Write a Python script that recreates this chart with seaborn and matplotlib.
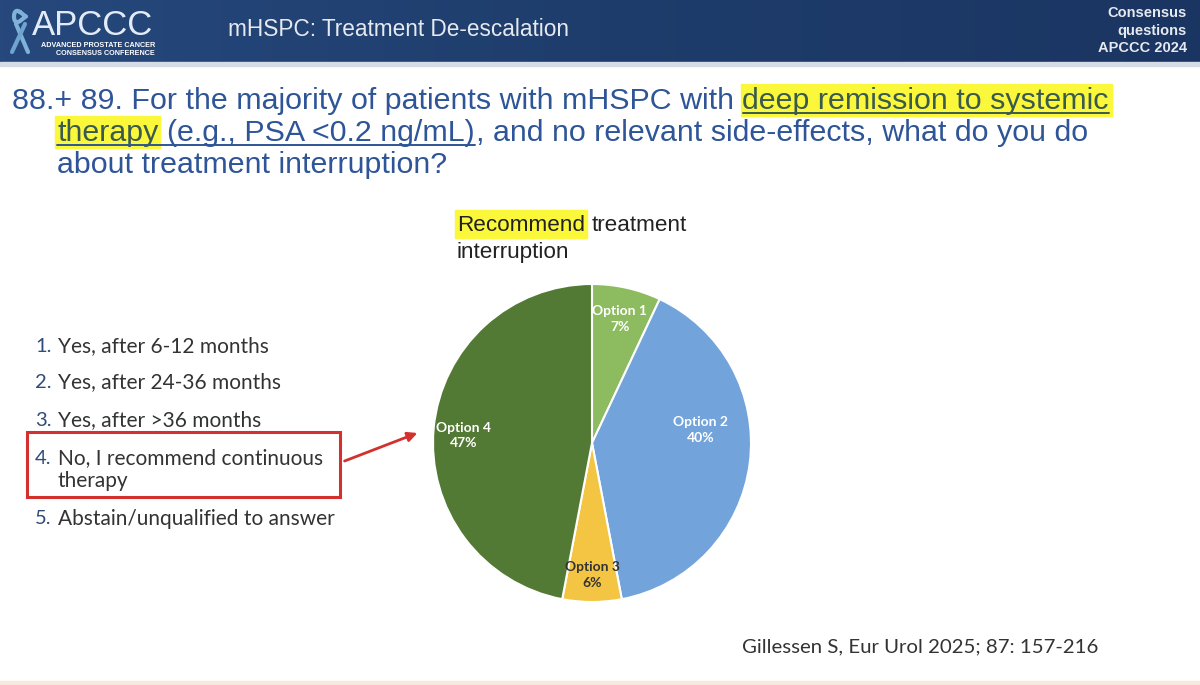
import numpy as np
import matplotlib
matplotlib.use("Agg")
import matplotlib.pyplot as plt
import seaborn as sns
from matplotlib.patches import Rectangle, FancyArrowPatch
from matplotlib.colors import LinearSegmentedColormap

# chart data
options = ["Option 1", "Option 2", "Option 3", "Option 4"]
shares = [7, 40, 6, 47]
slice_colors = ["#8DBB5F", "#72A3DA", "#F4C443", "#537A34"]
label_colors = ["white", "white", "#333333", "white"]

answers = [
    ["Yes, after 6-12 months"],
    ["Yes, after 24-36 months"],
    ["Yes, after >36 months"],
    ["No, I recommend continuous", "therapy"],
    ["Abstain/unqualified to answer"],
]

title_lines = [
    "88.+ 89. For the majority of patients with mHSPC with",
    "deep remission to systemic",
    "therapy",
    "(e.g., PSA <0.2 ng/mL)",
    ", and no relevant side-effects, what do you do",
    "about treatment interruption?",
]

sns.set_theme(style="white")
plt.rcParams["font.family"] = ["Liberation Sans", "DejaVu Sans"]

fig = plt.figure(figsize=(12, 6.85), dpi=100)
bg = fig.add_axes([0, 0, 1, 1])
bg.set_xlim(0, 1200)
bg.set_ylim(685, 0)
bg.axis("off")
renderer = fig.canvas.get_renderer()


def width_of(s, **kw):
    t = bg.text(0, 0, s, **kw)
    w = t.get_window_extent(renderer).width
    t.remove()
    return w


def space_of(**kw):
    return width_of("a a", **kw) - width_of("aa", **kw)


# header bar
cmap = LinearSegmentedColormap.from_list("hdr", ["#26487C", "#1E3D6C", "#1B3562"])
bg.imshow(np.linspace(0, 1, 256)[None, :], cmap=cmap, aspect="auto",
          extent=[0, 1200, 62, 0], zorder=0)
bg.add_patch(Rectangle((0, 62), 1200, 4, color="#D5DCE5", zorder=0))
bg.add_patch(Rectangle((0, 681), 1200, 4, color="#F8E9DD", zorder=0))

# logo ribbon (simple)
t = np.linspace(0, 2 * np.pi, 100)
bg.plot(20 + 6 * np.sin(t), 12 + 9 * (1 - np.cos(t)) / 2 + 4 * np.sin(t) * np.cos(t),
        color="#7FB2D9", lw=3, zorder=2)
bg.plot([16, 28], [24, 52], color="#7FB2D9", lw=3, zorder=2)
bg.plot([25, 12], [24, 52], color="#6FA4CF", lw=3, zorder=2)

bg.text(32, 35, "APCCC", fontsize=25, color="#E3ECF6", va="baseline", zorder=3)
bg.text(155, 47, "ADVANCED PROSTATE CANCER", fontsize=5.2, fontweight="bold",
        color="white", ha="right", va="baseline", zorder=3)
bg.text(155, 55, "CONSENSUS CONFERENCE", fontsize=5.2, fontweight="bold",
        color="white", ha="right", va="baseline", zorder=3)
bg.text(228, 29, "mHSPC: Treatment De-escalation", fontsize=16.3, color="#E6E9EE",
        va="center", zorder=3)
for s, y in zip(["Consensus", "questions", "APCCC 2024"], [13, 31, 48]):
    bg.text(1187, y, s, fontsize=10.5, color="#E6E9EE", ha="right", va="center",
            fontweight="bold", zorder=3)

# question title
tcol = "#2E5597"
hcol = "#3A5A4E"
tsize = 21.9
sp = space_of(fontsize=tsize)
y1, y2, y3 = 109, 141, 173

x0 = 12
bg.text(x0, y1, title_lines[0], fontsize=tsize, color=tcol, va="baseline", zorder=3)
hx = x0 + width_of(title_lines[0], fontsize=tsize) + sp
hw = width_of(title_lines[1], fontsize=tsize)
bg.add_patch(Rectangle((hx - 2, 84), hw + 5, 32, color="#FBF83C", zorder=1))
bg.text(hx, y1, title_lines[1], fontsize=tsize, color=hcol, va="baseline", zorder=3)
bg.plot([hx, hx + hw], [y1 + 4, y1 + 4], color=hcol, lw=1.4, zorder=3)

x2 = 57
tw = width_of(title_lines[2], fontsize=tsize)
bg.add_patch(Rectangle((x2 - 2, 116), tw + 4, 32, color="#FBF83C", zorder=1))
bg.text(x2, y2, title_lines[2], fontsize=tsize, color=hcol, va="baseline", zorder=3)
px = x2 + tw + sp
ex = px + width_of(title_lines[3], fontsize=tsize)
bg.text(px, y2, title_lines[3], fontsize=tsize, color=tcol, va="baseline", zorder=3)
bg.plot([x2, ex], [y2 + 4, y2 + 4], color=tcol, lw=1.4, zorder=3)
bg.text(ex + 1, y2, title_lines[4], fontsize=tsize, color=tcol, va="baseline", zorder=3)
bg.text(x2, y3, title_lines[5], fontsize=tsize, color=tcol, va="baseline", zorder=3)

# answer list
lfont = ["Lato", "DejaVu Sans"]
lsize = 15
ys = [346, 382, 420, 458, 519]
for i, (ans, y) in enumerate(zip(answers, ys), 1):
    bg.text(35, y, f"{i}.", fontsize=lsize - 0.5, color="#2E4B7A", va="center", family=lfont)
    for k, line in enumerate(ans):
        bg.text(58, y + 23 * k, line, fontsize=lsize, color="#333333", va="center",
                family=lfont)

bg.add_patch(Rectangle((27, 432), 313, 65, fill=False, edgecolor="#D2312E", lw=2.2, zorder=3))
bg.add_patch(FancyArrowPatch((342, 462), (420, 432), arrowstyle="-|>", mutation_scale=14,
                             color="#D2312E", lw=2, zorder=3))

# pie heading
psize = 16.2
rw = width_of("Recommend", fontsize=psize)
bg.add_patch(Rectangle((455, 210), rw + 4, 28, color="#FBF83C", zorder=1))
bg.text(457, 231, "Recommend", fontsize=psize, color="#222222", va="baseline", zorder=3)
bg.text(457 + rw + space_of(fontsize=psize), 231, "treatment", fontsize=psize,
        color="#222222", va="baseline", zorder=3)
bg.text(457, 258, "interruption", fontsize=psize, color="#222222", va="baseline", zorder=3)

# pie
cx, cy, r = 592, 443, 159
ax = fig.add_axes([(cx - r) / 1200, (685 - cy - r) / 685, 2 * r / 1200, 2 * r / 685])
wedges, _ = ax.pie(shares, colors=sns.color_palette(slice_colors), startangle=90,
                   counterclock=False, wedgeprops=dict(edgecolor="white", linewidth=1.5))
ax.set_xlim(-1, 1)
ax.set_ylim(-1, 1)
ax.set_aspect("auto")
label_r = [0.80, 0.69, 0.83, 0.81]
label_shift = [0, 14, 0, 2]
for w, name, v, rr, sh, lc in zip(wedges, options, shares, label_r, label_shift, label_colors):
    ang = np.deg2rad((w.theta1 + w.theta2) / 2 + sh)
    ax.text(rr * np.cos(ang), rr * np.sin(ang), f"{name}\n{v}%", ha="center", va="center",
            fontsize=10, fontweight="bold", color=lc, family=lfont, linespacing=1.35)

# citation
bg.text(1098, 647, "Gillessen S, Eur Urol 2025; 87: 157-216", fontsize=14.7,
        color="#333333", ha="right", va="center", family=lfont)

fig.savefig("out.png", dpi=100)
